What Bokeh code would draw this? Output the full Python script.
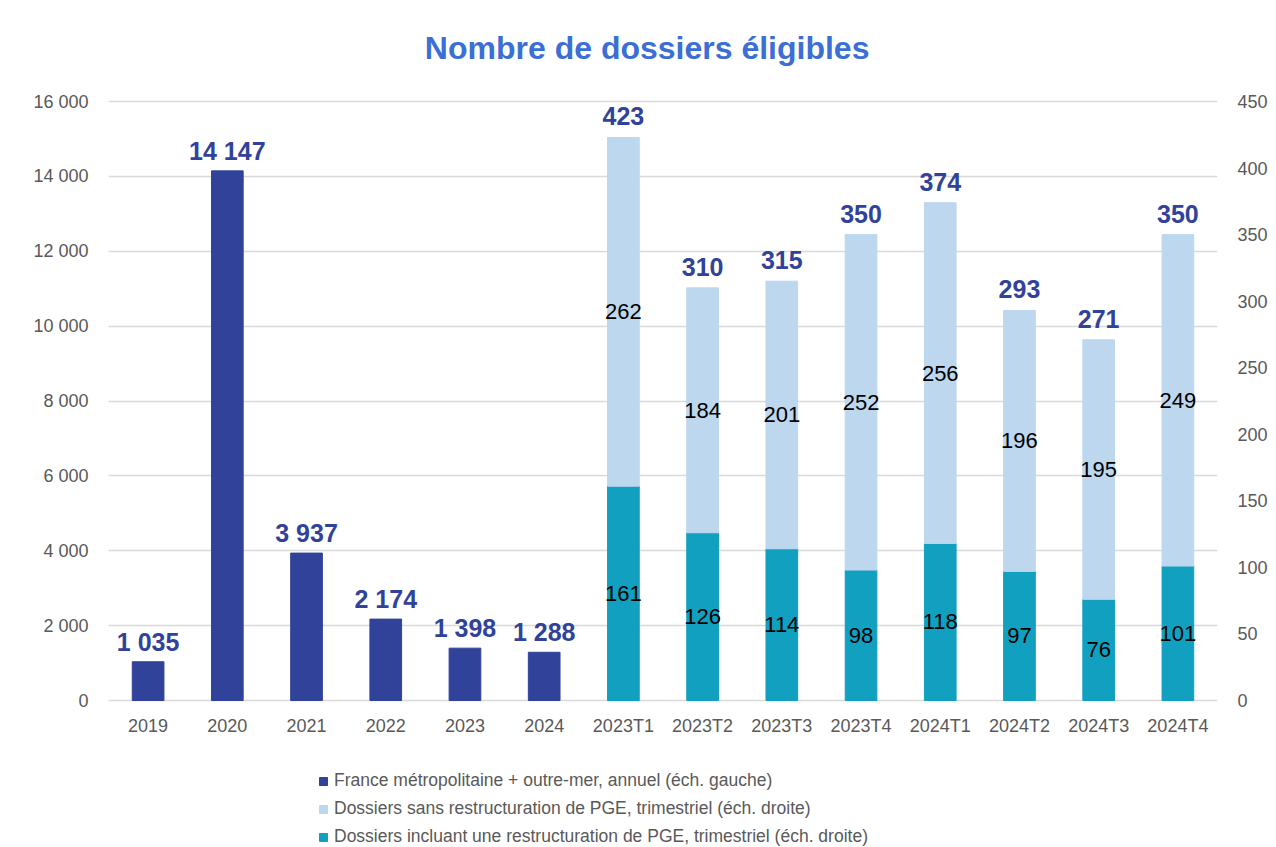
from bokeh.plotting import figure
from bokeh.models import (ColumnDataSource, Range1d, LinearAxis, FactorRange, FixedTicker,
                          LabelSet, Label, Legend, LegendItem)
from bokeh.core.properties import value
from bokeh.embed import file_html
from bokeh.resources import INLINE

# ---------------- data ----------------
categories = ["2019", "2020", "2021", "2022", "2023", "2024",
              "2023T1", "2023T2", "2023T3", "2023T4",
              "2024T1", "2024T2", "2024T3", "2024T4"]
annual_years = ["2019", "2020", "2021", "2022", "2023", "2024"]
annual_values = [1035, 14147, 3937, 2174, 1398, 1288]
annual_labels = ["1 035", "14 147", "3 937", "2 174", "1 398", "1 288"]

quarters = ["2023T1", "2023T2", "2023T3", "2023T4",
            "2024T1", "2024T2", "2024T3", "2024T4"]
with_pge = [161, 126, 114, 98, 118, 97, 76, 101]
without_pge = [262, 184, 201, 252, 256, 196, 195, 249]

left_ticks = [0, 2000, 4000, 6000, 8000, 10000, 12000, 14000, 16000]
left_tick_labels = ["0", "2 000", "4 000", "6 000", "8 000", "10 000",
                    "12 000", "14 000", "16 000"]
right_ticks = [0, 50, 100, 150, 200, 250, 300, 350, 400, 450]
left_max = 16000
right_max = 450

title_text = "Nombre de dossiers éligibles"
legend_labels = ["France métropolitaine + outre-mer, annuel (éch. gauche)",
                 "Dossiers sans restructuration de PGE, trimestriel (éch. droite)",
                 "Dossiers incluant une restructuration de PGE, trimestriel (éch. droite)"]

# ---------------- style / layout ----------------
FONT = "Liberation Sans"
DARK = "#31429A"
LIGHT = "#BDD7EE"
TEAL = "#11A0BF"
GRAY_TXT = "#595959"
GRID = "#D9D9D9"
TITLE_COL = "#3B6FD6"

W, H = 1270, 847
LEFT, RIGHT = 108, 51
ABOVE_PX = 101         # pixels above the axis max (title area)
PLOT_PX = 599          # pixel height between 0 and the axis max
BELOW_PX = H - ABOVE_PX - PLOT_PX   # space under the zero line (x labels + legend)
TITLE_CENTER_PX = 47   # title centre, pixels from top
TITLE_X = 6.8          # title centre in category units

left_start = -left_max * BELOW_PX / PLOT_PX
left_end = left_max + left_max * ABOVE_PX / PLOT_PX
right_start = -right_max * BELOW_PX / PLOT_PX
right_end = right_max + right_max * ABOVE_PX / PLOT_PX

p = figure(x_range=FactorRange(*categories), y_range=Range1d(left_start, left_end),
           width=W, height=H, output_backend="svg", toolbar_location=None,
           min_border_left=LEFT, min_border_right=RIGHT, min_border_top=0,
           min_border_bottom=0, outline_line_color=None, x_axis_location=None,
           background_fill_color="white", border_fill_color="white")
p.extra_y_ranges = {"right": Range1d(right_start, right_end)}

title_y = left_max + left_max * (ABOVE_PX - TITLE_CENTER_PX) / PLOT_PX
p.add_layout(Label(x=TITLE_X, y=title_y, text=title_text, text_align="center",
                   text_baseline="middle", text_font=FONT, text_font_size="32px",
                   text_font_style="bold", text_color=TITLE_COL))

# axes
ya = p.yaxis[0]
ya.ticker = FixedTicker(ticks=left_ticks)
ya.major_label_overrides = {t: l for t, l in zip(left_ticks, left_tick_labels)}
ra = LinearAxis(y_range_name="right", ticker=FixedTicker(ticks=right_ticks))
p.add_layout(ra, "right")
for ax in [ya, ra]:
    ax.axis_line_color = None
    ax.major_tick_line_color = None
    ax.minor_tick_line_color = None
    ax.major_tick_out = 0
    ax.major_tick_in = 0
    ax.major_label_text_font = FONT
    ax.major_label_text_font_size = "18px"
    ax.major_label_text_color = GRAY_TXT
    ax.major_label_standoff = 20

p.xgrid.grid_line_color = None
p.ygrid.grid_line_color = GRID
p.ygrid.grid_line_width = 1.5
p.ygrid.ticker = FixedTicker(ticks=left_ticks)

# category labels under the zero line
csrc = ColumnDataSource(dict(x=categories, y=[0] * len(categories)))
p.add_layout(LabelSet(x="x", y="y", text="x", source=csrc, y_offset=-25,
                      text_align="center", text_baseline="middle",
                      text_font=value(FONT), text_font_size="18px",
                      text_color=GRAY_TXT))

# bars
asrc = ColumnDataSource(dict(x=annual_years, top=annual_values, label=annual_labels))
r_annual = p.vbar(x="x", top="top", width=0.4, color=DARK, source=asrc)

totals = [a + b for a, b in zip(with_pge, without_pge)]
qsrc = ColumnDataSource(dict(
    x=quarters, with_pge=with_pge, without_pge=without_pge, total=totals,
    total_label=[str(t) for t in totals],
    with_label=[str(v) for v in with_pge],
    without_label=[str(v) for v in without_pge],
    with_mid=[v / 2 for v in with_pge],
    without_mid=[a + b / 2 for a, b in zip(with_pge, without_pge)],
))
r_stack = p.vbar_stack(["with_pge", "without_pge"], x="x", width=0.4,
                       color=[TEAL, LIGHT], source=qsrc, y_range_name="right")

# value labels
p.add_layout(LabelSet(x="x", y="top", text="label", source=asrc, y_offset=6,
                      text_align="center", text_baseline="bottom",
                      text_font=value(FONT), text_font_size="25px", text_font_style="bold",
                      text_color=DARK))
p.add_layout(LabelSet(x="x", y="total", text="total_label", source=qsrc,
                      y_range_name="right", y_offset=12,
                      text_align="center", text_baseline="bottom",
                      text_font=value(FONT), text_font_size="25px", text_font_style="bold",
                      text_color=DARK))
for ycol, tcol in [("with_mid", "with_label"), ("without_mid", "without_label")]:
    p.add_layout(LabelSet(x="x", y=ycol, text=tcol, source=qsrc,
                          y_range_name="right",
                          text_align="center", text_baseline="middle",
                          text_font=value(FONT), text_font_size="22px", text_color="black"))

legend = Legend(items=[LegendItem(label=legend_labels[0], renderers=[r_annual]),
                       LegendItem(label=legend_labels[1], renderers=[r_stack[1]]),
                       LegendItem(label=legend_labels[2], renderers=[r_stack[0]])],
                location=(210, 0), orientation="vertical",
                label_text_font=FONT, label_text_font_size="17.5px",
                label_text_color=GRAY_TXT, glyph_width=10, glyph_height=10,
                label_standoff=6, label_height=20, spacing=7, padding=0, margin=0,
                border_line_color=None, background_fill_alpha=0)
p.add_layout(legend, "center")

open("out.html", "w").write(file_html(p, INLINE))
